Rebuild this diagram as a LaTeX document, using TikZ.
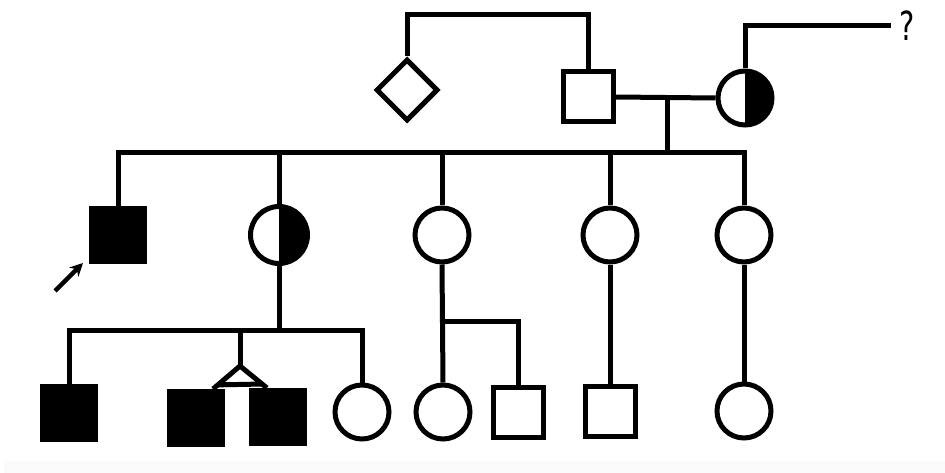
\documentclass[tikz,border=0pt]{standalone}
\usepackage{fontspec}
\newfontfamily\qfont{DejaVu Sans}
\usetikzlibrary{shapes.geometric,arrows.meta,calc}
\tikzset{
  ln/.style={line width=5pt, line join=miter},
  opensq/.style={draw, rectangle, line width=5pt, minimum size=50pt, inner sep=0pt},
  fullsq/.style={draw, fill=black, rectangle, line width=5pt, minimum size=53pt, inner sep=0pt},
  opencirc/.style={draw, circle, line width=5pt, minimum size=54pt, inner sep=0pt},
  halfcirc/.style={opencirc, path picture={\fill[black] (path picture bounding box.north) rectangle (path picture bounding box.south east);}},
  unk/.style={draw, diamond, line width=5pt, minimum size=62pt, inner sep=0pt},
  pointer/.style={line width=4.5pt, -{Stealth[length=13pt,width=13pt]}}
}
\begin{document}
\begin{tikzpicture}[x=1pt,y=-1pt]
\useasboundingbox (0,0) rectangle (945,473);
\fill[black!2] (4,461) rectangle (945,473);
% generation I
\node[unk] (dia) at (407,90) {};
\node[opensq] (f) at (588,97) {};
\node[halfcirc] (m) at (745,98) {};
\node[font=\qfont\fontsize{40}{42}\selectfont, inner sep=0pt, xscale=0.72] (q) at (907,26) {?};
\coordinate (top) at (0,15);
\coordinate (qy) at (0,26);
\coordinate (qend) at (891,26);
\draw[ln] (dia.north) -- (dia.north |- top) -| (f.north);
\draw[ln] (m.north) -- (m.north |- qy) -- (qend);
\draw[ln] (f.east) -- (m.west);
\coordinate (mm) at (667,98);
\coordinate (sib) at (0,153);
\draw[ln] (mm) -- (mm |- sib);
% generation II
\node[fullsq] (c1) at (118,235) {};
\node[halfcirc, minimum size=57pt] (c2) at (279,235) {};
\node[opencirc] (c3) at (442,235) {};
\node[opencirc] (c4) at (610,235) {};
\node[opencirc] (c5) at (744,235) {};
\draw[ln] (c1.north) -- (c1.north |- sib) -- (c5.north |- sib) -- (c5.north);
\draw[ln] (c2.north) -- (c2.north |- sib);
\draw[ln] (c3.north) -- (c3.north |- sib);
\draw[ln] (c4.north) -- (c4.north |- sib);
\coordinate (arrtail) at (55,291);
\coordinate (arrhead) at (83,263);
\draw[pointer] (arrtail) -- (arrhead);
% generation III
\node[fullsq] (g1) at (69,413) {};
\node[fullsq] (g2) at (196,418) {};
\node[fullsq] (g3) at (278,417) {};
\node[opencirc] (g4) at (362,412) {};
\node[opencirc] (h1) at (443,412) {};
\node[opensq] (h2) at (518,412) {};
\node[opensq] (h3) at (610,411) {};
\node[opencirc] (h4) at (744,411) {};
\coordinate (s2) at (0,330);
\draw[ln] (c2.south) -- (c2.south |- s2);
\draw[ln] (g1.north) -- (g1.north |- s2) -- (g4.north |- s2) -- (g4.north);
\coordinate (tw) at (240,366);
\coordinate (twl) at ($(g2.north)+(17,0)$);
\coordinate (twr) at ($(g3.north)+(-11,0)$);
\draw[ln] (tw |- s2) -- (tw);
\draw[ln] (twl) -- (tw) -- (twr);
\draw[ln] ($(tw)!0.82!(twl)$) -- ($(tw)!0.82!(twr)$);
\coordinate (s3) at (0,321);
\draw[ln] (c3.south) -- (h1.north);
\draw[ln] (c3.south |- s3) -| (h2.north);
\draw[ln] (c4.south) -- (h3.north);
\draw[ln] (c5.south) -- (h4.north);
\end{tikzpicture}
\end{document}
